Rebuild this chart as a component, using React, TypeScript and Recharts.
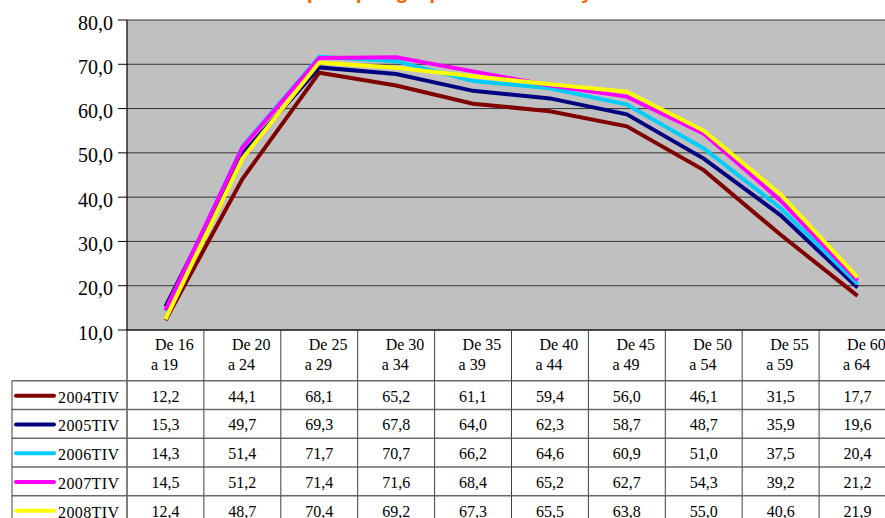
import React from "react";
import { LineChart, Line, XAxis, YAxis, CartesianGrid } from "recharts";

// age groups along the x axis
const categories = [
  "De 16 a 19",
  "De 20 a 24",
  "De 25 a 29",
  "De 30 a 34",
  "De 35 a 39",
  "De 40 a 44",
  "De 45 a 49",
  "De 50 a 54",
  "De 55 a 59",
  "De 60 a 64",
];

const s2004 = [12.2, 44.1, 68.1, 65.2, 61.1, 59.4, 56.0, 46.1, 31.5, 17.7];
const s2005 = [15.3, 49.7, 69.3, 67.8, 64.0, 62.3, 58.7, 48.7, 35.9, 19.6];
const s2006 = [14.3, 51.4, 71.7, 70.7, 66.2, 64.6, 60.9, 51.0, 37.5, 20.4];
const s2007 = [14.5, 51.2, 71.4, 71.6, 68.4, 65.2, 62.7, 54.3, 39.2, 21.2];
const s2008 = [12.4, 48.7, 70.4, 69.2, 67.3, 65.5, 63.8, 55.0, 40.6, 21.9];

const yTicks = [10, 20, 30, 40, 50, 60, 70, 80];

const SERIES = [
  { key: "2004TIV", values: s2004, color: "#800000" },
  { key: "2005TIV", values: s2005, color: "#000080" },
  { key: "2006TIV", values: s2006, color: "#00CCFF" },
  { key: "2007TIV", values: s2007, color: "#FF00FF" },
  { key: "2008TIV", values: s2008, color: "#FFFF00" },
];

const chartData = categories.map((name, i) => {
  const row: any = { name };
  SERIES.forEach((s) => (row[s.key] = s.values[i]));
  return row;
});

const fmt = (v: number) => v.toFixed(1).replace(".", ",");

const SERIF = "'Liberation Serif', 'Times New Roman', serif";
const CHART_W = 900;
const PLOT_LEFT = 127;
const RIGHT = 4;
const COL_W = (CHART_W - PLOT_LEFT - RIGHT) / categories.length;
const HEADER_H = 50.7;
const ROW_H = 28.75;
const LINE_GRAY = "#6a6a6a";

const YTick = ({ x, y, payload }: any) => (
  <text x={x} y={y} dy={9.5} textAnchor="end" fontSize={20} fontFamily={SERIF} fill="#000">
    {fmt(payload.value)}
  </text>
);

// each x tick draws one column of the data table under the plot
const TableColumn = ({ x, y, payload, index }: any) => {
  const i = payload?.index ?? index;
  const half = COL_W / 2;
  const left = x - half;
  const right = x + half;
  const [from, to] = categories[i].split(" a ");
  const rowsTop = y + HEADER_H;
  const bottom = rowsTop + ROW_H * (SERIES.length + 1);
  const legendLeft = 12;

  return (
    <g>
      <line x1={left} y1={y} x2={left} y2={bottom} stroke={i === 0 ? "#000" : "#404040"} strokeWidth={1} />
      {i === categories.length - 1 && (
        <line x1={right} y1={y} x2={right} y2={bottom} stroke="#404040" strokeWidth={1} />
      )}
      <text x={left + 28} y={y + 20} fontSize={16} fontFamily={SERIF} fill="#000">
        {from}
      </text>
      <text x={left + 24} y={y + 40} fontSize={16} fontFamily={SERIF} fill="#000">
        {"a " + to}
      </text>
      {SERIES.map((s, r) => (
        <g key={s.key}>
          <line
            x1={i === 0 ? legendLeft : left}
            y1={rowsTop + r * ROW_H}
            x2={right}
            y2={rowsTop + r * ROW_H}
            stroke={LINE_GRAY}
            strokeWidth={1.5}
          />
          <text
            x={x}
            y={rowsTop + r * ROW_H + 21}
            textAnchor="middle"
            fontSize={16}
            fontFamily={SERIF}
            fill="#000"
          >
            {fmt(s.values[i])}
          </text>
          {i === 0 && (
            <>
              <line
                x1={16}
                y1={rowsTop + r * ROW_H + 15}
                x2={54}
                y2={rowsTop + r * ROW_H + 15}
                stroke={s.color}
                strokeWidth={4}
                strokeLinecap="round"
              />
              <text
                x={58}
                y={rowsTop + r * ROW_H + 22}
                fontSize={16}
                letterSpacing={0.4}
                fontFamily={SERIF}
                fill="#000"
              >
                {s.key}
              </text>
            </>
          )}
        </g>
      ))}
      <line
        x1={i === 0 ? legendLeft : left}
        y1={rowsTop + SERIES.length * ROW_H}
        x2={right}
        y2={rowsTop + SERIES.length * ROW_H}
        stroke={LINE_GRAY}
        strokeWidth={1.5}
      />
      {i === 0 && <line x1={legendLeft} y1={rowsTop} x2={legendLeft} y2={bottom} stroke="#404040" strokeWidth={1} />}
    </g>
  );
};

export default function App() {
  return (
    <div
      style={{
        position: "absolute",
        top: 0,
        left: 0,
        width: 885,
        height: 518,
        overflow: "hidden",
        background: "#fff",
      }}
    >
      <LineChart
        width={CHART_W}
        height={530}
        data={chartData}
        margin={{ top: 20, right: RIGHT, left: 0, bottom: 0 }}
      >
        <CartesianGrid vertical={false} stroke="#333" strokeWidth={1} fill="#C0C0C0" fillOpacity={1} />
        <XAxis
          dataKey="name"
          interval={0}
          height={200}
          tickSize={0}
          tickMargin={0}
          tickLine={false}
          padding={{ left: COL_W / 2, right: COL_W / 2 }}
          axisLine={{ stroke: "#000", strokeWidth: 1 }}
          tick={<TableColumn />}
        />
        <YAxis
          width={PLOT_LEFT}
          domain={[10, 80]}
          ticks={yTicks}
          interval={0}
          tickSize={9}
          tickMargin={5}
          axisLine={{ stroke: "#000", strokeWidth: 1.2 }}
          tickLine={{ stroke: "#000", strokeWidth: 1 }}
          tick={<YTick />}
        />
        {SERIES.map((s) => (
          <Line
            key={s.key}
            type="linear"
            dataKey={s.key}
            stroke={s.color}
            strokeWidth={4}
            dot={false}
            activeDot={false}
            isAnimationActive={false}
          />
        ))}
      </LineChart>
      <svg
        width={885}
        height={20}
        style={{ position: "absolute", top: 0, left: 0, overflow: "hidden" }}
      >
        <text
          x={194}
          y={-1.5}
          fontSize={21}
          fontWeight="bold"
          fontFamily="'Liberation Sans', Arial, sans-serif"
          fill="#FF6600"
        >
          Tasa de empleo por grupos de edades y trimestre
        </text>
      </svg>
    </div>
  );
}
